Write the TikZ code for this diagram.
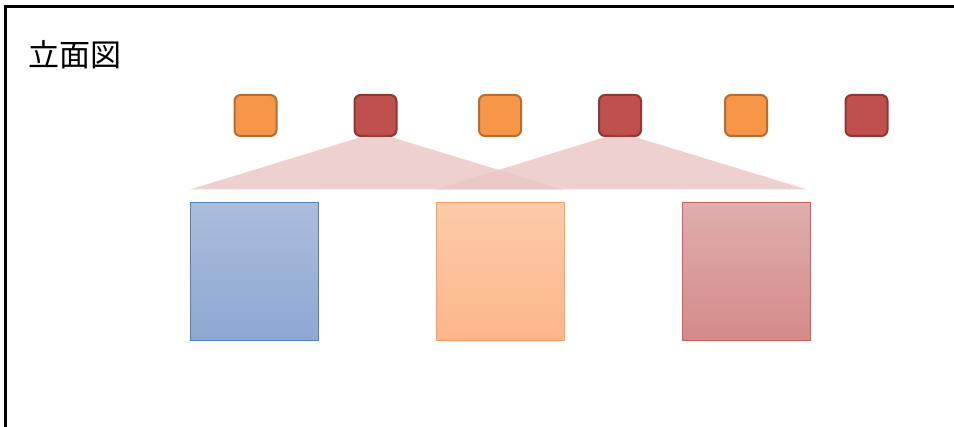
\documentclass[tikz,border=0pt]{standalone}
\usepackage{fontspec}
\newfontfamily\jpfont{Noto Sans CJK JP}
\definecolor{orgfill}{HTML}{F79646}
\definecolor{orgline}{HTML}{B66D31}
\definecolor{redfill}{HTML}{C0504D}
\definecolor{redline}{HTML}{8C3836}
\definecolor{bluetop}{HTML}{AABDDB}
\definecolor{bluebot}{HTML}{8EA8D3}
\definecolor{blueline}{HTML}{4F81BD}
\definecolor{orgtop}{HTML}{FCCBA8}
\definecolor{orgbot}{HTML}{FDB68A}
\definecolor{orgedge}{HTML}{F9A060}
\definecolor{redtop}{HTML}{DFAEAD}
\definecolor{redbot}{HTML}{D48A89}
\definecolor{rededge}{HTML}{C9605D}
\tikzset{
  x=1pt, y=-1pt,
  post/.style={draw, line width=2pt, rounded corners=6pt, minimum width=42pt, minimum height=41pt, inner sep=0pt},
  postA/.style={post, fill=orgfill, draw=orgline},
  postB/.style={post, fill=redfill, draw=redline},
  block/.style={line width=1pt, minimum width=128pt, minimum height=138pt, inner sep=0pt, shading=axis, shading angle=0},
  fan/.style={fill=redfill, draw=none}
}
\begin{document}
\begin{tikzpicture}
\useasboundingbox (0,0) rectangle (954,427);
% frame
\draw[line width=3pt] (5.5,430) -- (5.5,6.5) -- (960,6.5);
% title
\node[anchor=west, inner sep=0pt] (title) at (28,54.5) {\jpfont\fontsize{31}{36}\selectfont 立面図};
% posts
\node[postA] (p1) at (255.5,115.5) {};
\node[postB] (p2) at (375.5,115.5) {};
\node[postA] (p3) at (500,115.5) {};
\node[postB] (p4) at (620,115.5) {};
\node[postA] (p5) at (746,115.5) {};
\node[postB] (p6) at (866.5,115.5) {};
% spans under the red posts
\coordinate (a1) at (376,132.5);
\coordinate (a2) at (620,132.5);
\coordinate (l1) at (190,189.5);
\coordinate (r1) at (563,189.5);
\coordinate (l2) at (435,189.5);
\coordinate (r2) at (807,189.5);
\coordinate (x12) at (498.6,169.9);
\begin{scope}[transparency group, opacity=0.27]
  \fill[fan] (l1) -- (a1) -- (r1) -- cycle;
  \fill[fan] (l2) -- (a2) -- (r2) -- cycle;
\end{scope}
\fill[fan, fill opacity=0.07] (l2) -- (x12) -- (r1) -- cycle;
% blocks
\node[block, top color=bluetop, bottom color=bluebot, draw=blueline] (b1) at (254.5,272) {};
\node[block, top color=orgtop, bottom color=orgbot, draw=orgedge] (b2) at (500.5,272) {};
\node[block, top color=redtop, bottom color=redbot, draw=rededge] (b3) at (746.5,272) {};
\end{tikzpicture}
\end{document}
